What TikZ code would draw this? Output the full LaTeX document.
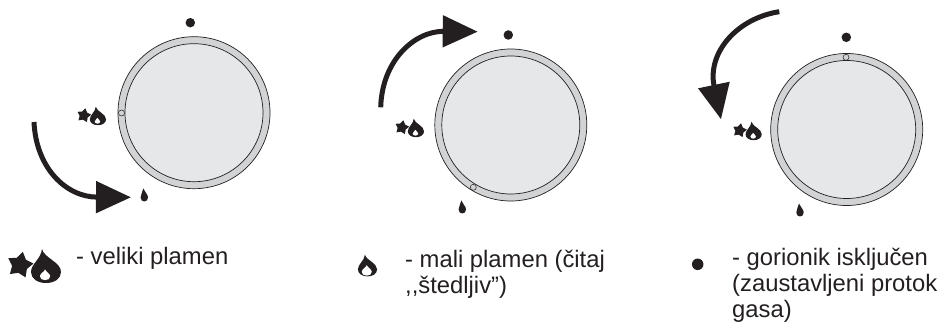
\documentclass[tikz,border=0pt]{standalone}
\usepackage{fontspec}
\setmainfont{Liberation Sans}
\usetikzlibrary{arrows.meta, shapes.geometric}
\definecolor{ink}{HTML}{231F20}
\definecolor{ringgray}{HTML}{D1D3D4}
\definecolor{facegray}{HTML}{E6E7E8}
\newcommand{\flamebody}{(-4,-17) .. controls (-2,-8) and (15,-4) .. (15,6) .. controls (15,13) and (8,17) .. (0,17)
    .. controls (-8,17) and (-15,13) .. (-15,6) .. controls (-15,-2) and (-5,-7) .. (-4,-17) -- cycle}
\newcommand{\flamehole}{(-.5,-6.5) .. controls (.5,-3.5) and (5.5,-2) .. (5.5,1.5) .. controls (5.5,4.5) and (3,6) .. (-.5,6)
    .. controls (-4,6) and (-6.5,4.5) .. (-6.5,1.5) .. controls (-6.5,-2) and (-1.5,-3.5) .. (-.5,-6.5) -- cycle}
\tikzset{
    ringdisc/.style={draw=ink, fill=ringgray, circle, line width=.7pt, minimum size=152pt, inner sep=0pt},
    facedisc/.style={draw=ink, fill=facegray, circle, line width=.7pt, minimum size=138pt, inner sep=0pt},
    marker/.style={draw=ink, fill=ringgray, circle, line width=.5pt, minimum size=6pt, inner sep=0pt},
    offdot/.style={fill=ink, circle, minimum size=9.5pt, inner sep=0pt},
    legendtext/.style={anchor=north west, align=left, text=ink, font=\fontsize{23.8}{25.7}\selectfont, inner sep=0pt},
    turnarrow/.style={line width=5pt, ink, -{Triangle[length=35pt, width=31pt]}},
    pics/flame/.style={code={
        \fill[ink] \flamebody;
        \fill[white, shift={(-.5,8)}, scale=#1] \flamehole;
    }},
    pics/staricon/.style={code={
        \node[fill=ink, star, star points=5, star point ratio=1.7, minimum size=27pt, inner sep=0pt, rotate=-12, transform shape] at (-15,-1) {};
        \fill[ink, shift={(11,0)}] \flamebody;
        \fill[white, shift={(10.5,9)}, scale=.85] \flamehole;
    }},
    pics/drop/.style={code={
        \fill[ink] (-1,-6.5) .. controls (0,-3) and (3.7,-1) .. (3.7,2.5) .. controls (3.7,5) and (2,6.5) .. (0,6.5)
            .. controls (-2,6.5) and (-3.7,5) .. (-3.7,2.5) .. controls (-3.7,-1) and (-1.5,-3) .. (-1,-6.5) -- cycle;
    }}
}
\begin{document}
\begin{tikzpicture}[x=1pt, y=-1pt, >=Latex]
	\useasboundingbox (0,0) rectangle (941,328);
	% left dial
	\node(RingA)[ringdisc] at (194,112.7){};
	\node(FaceA)[facedisc] at (RingA.center){};
	\node(MarkA)[marker] at (121.5,113){};
	\node(DotA)[offdot] at (190.3,22.7){};
	\pic(BigA)[scale=.54] at (92,116){staricon};
	\pic(DropA) at (144.3,195){drop};
	% middle dial
	\node(RingB)[ringdisc] at (510.8,125){};
	\node(FaceB)[facedisc] at (RingB.center){};
	\node(MarkB)[marker] at (473.3,187.3){};
	\node(DotB)[offdot] at (508.3,35){};
	\pic(BigB)[scale=.54] at (410,128){staricon};
	\pic(DropB) at (462.3,207){drop};
	% right dial
	\node(RingC)[ringdisc] at (846.7,129.5){};
	\node(FaceC)[facedisc] at (RingC.center){};
	\node(MarkC)[marker] at (846,57.3){};
	\node(DotC)[offdot] at (846.3,37.3){};
	\pic(BigC)[scale=.54] at (747.7,131){staricon};
	\pic(DropC) at (800,210){drop};
	% arrows
	\coordinate(StartA) at (34,122);
	\coordinate(TipA) at (131,197.3);
	\coordinate(StartB) at (380.7,107.3);
	\coordinate(TipB) at (477.7,31.7);
	\coordinate(StartC) at (779.3,11.7);
	\coordinate(TipC) at (721,119.3);
	\draw[turnarrow](StartA) .. controls (36,168) and (66,197) .. (TipA);
	\draw[turnarrow](StartB) .. controls (382,60) and (415,31) .. (TipB);
	\draw[turnarrow](StartC) .. controls (738,18) and (707,52) .. (TipC);
	% legend
	\pic(LegendBig) at (35,266){staricon};
	\pic(LegendSmall)[scale=.64] at (367.5,265.5){flame=1.3};
	\node(LegendOff)[offdot, minimum size=11.5pt] at (697.7,264.3){};
	\node(TextBig)[legendtext] at (76,247.5){- veliki plamen};
	\node(TextSmall)[legendtext] at (405,250.2){- mali plamen (čitaj\\{,}{,}štedljiv”)};
	\node(TextOff)[legendtext] at (732,248.2){- gorionik isključen\\(zaustavljeni protok\\gasa)};
\end{tikzpicture}
\end{document}
